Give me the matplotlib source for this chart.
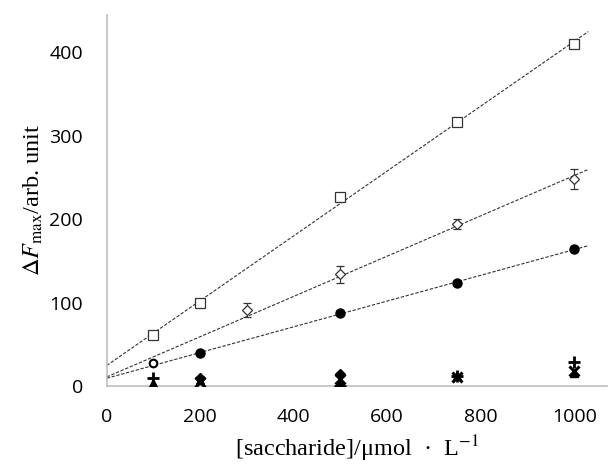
import numpy as np
import matplotlib.pyplot as plt

plt.rcParams['mathtext.fontset'] = 'stix'

# series
x_sq = [100, 200, 500, 750, 1000]
y_sq = [61, 100, 227, 316, 410]

# diamond series; its point at 100 is drawn as an open circle
x_dia = [100, 300, 500, 750, 1000]
y_dia = [27, 91, 134, 194, 248]
err_dia = [0, 8, 10, 6, 12]

x_circ = [200, 500, 750, 1000]
y_circ = [40, 87, 124, 164]

# near-zero series
x_plus = [100, 500, 750, 1000]
y_plus = [10, 0, 12, 29]
x_tri = [100, 200, 500, 750, 1000]
y_tri = [4, 7, 3, 12, 16]
x_x = [200, 500, 750, 1000]
y_x = [5, 8, 11, 18]
x_fd = [200, 500]
y_fd = [10, 14]

xticks = [0, 200, 400, 600, 800, 1000]
yticks = [0, 100, 200, 300, 400]

fig = plt.figure(figsize=(6.1, 4.65), dpi=100)
ax = fig.add_axes([0.175, 0.170, 0.82, 0.798])

xfit = np.array([0, 1030])
for xs, ys in [(x_sq, y_sq), (x_dia, y_dia), (x_circ, y_circ)]:
    k, b = np.polyfit(xs, ys, 1)
    ax.plot(xfit, k * xfit + b, color='#333333', lw=0.8, ls=(0, (3, 1.5)), zorder=1)

ax.plot(x_sq, y_sq, 's', ms=7, mfc='white', mec='#333333', mew=0.9, zorder=3)
ax.errorbar(x_dia[1:], y_dia[1:], yerr=err_dia[1:], fmt='D', ms=5, mfc='white',
            mec='#333333', mew=0.9, ecolor='#333333', elinewidth=0.8, capsize=3, zorder=3)
ax.plot(x_dia[:1], y_dia[:1], 'o', ms=5.5, mfc='white', mec='black', mew=1.5, zorder=3)
ax.plot(x_circ, y_circ, 'o', ms=6.5, color='black', zorder=3)

ax.plot(x_tri, y_tri, '^', ms=5.5, color='black', zorder=3)
ax.plot(x_x, y_x, 'x', ms=6.5, mew=2.2, color='black', zorder=3)
ax.plot(x_fd, y_fd, 'D', ms=5, color='black', zorder=3)
ax.plot(x_plus, y_plus, '+', ms=9, mew=2, color='black', zorder=3)

ax.set_xlim(0, 1070)
ax.set_ylim(0, 445)
ax.set_xticks(xticks)
ax.set_yticks(yticks)
ax.tick_params(length=0, labelsize=14)
ax.tick_params(axis='y', pad=17)
ax.tick_params(axis='x', pad=16)
for lab in ax.get_xticklabels() + ax.get_yticklabels():
    lab.set_family(['Open Sans', 'DejaVu Sans'])

for s in ['top', 'right']:
    ax.spines[s].set_visible(False)
for s in ['left', 'bottom']:
    ax.spines[s].set_color('#bfbfbf')
    ax.spines[s].set_linewidth(1.2)

ax.set_ylabel(r'$\Delta\mathit{F}_{\mathrm{max}}$/arb. unit', fontsize=17.5,
              family=['Liberation Serif', 'DejaVu Serif'], labelpad=3)
ax.set_xlabel(r'[saccharide]/μmol  ·  L$^{\mathrm{-1}}$', fontsize=17.5,
              family=['Liberation Serif', 'DejaVu Serif'], labelpad=5)

fig.savefig('out.png', dpi=100)
